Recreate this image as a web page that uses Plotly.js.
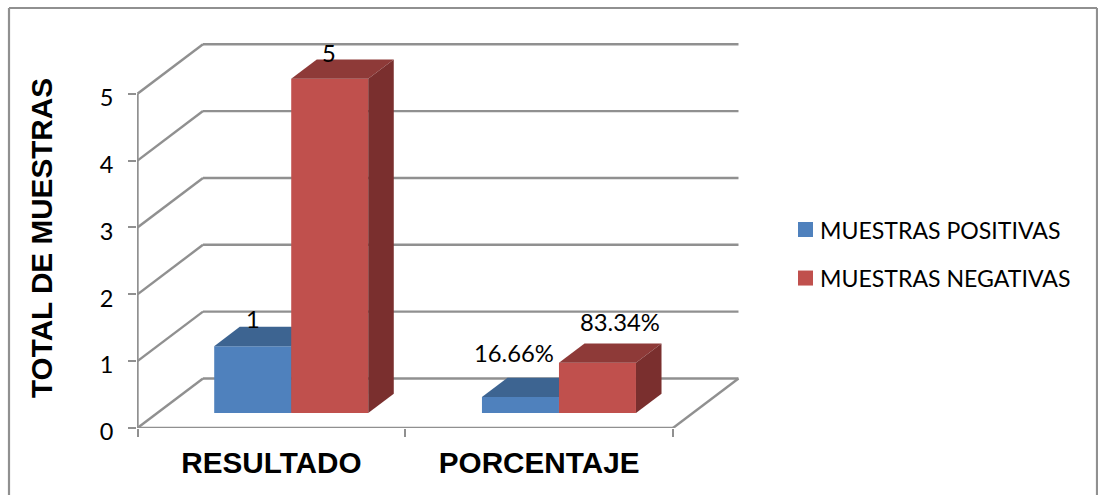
<!DOCTYPE html>
<html>
<head>
<meta charset="utf-8">
<script src="https://cdn.plot.ly/plotly-3.0.1.min.js"></script>
<style>html,body{margin:0;padding:0;background:#fff}#chart{width:1098px;height:495px}</style>
</head>
<body>
<div id="chart"></div>
<script>
// ---- data
var categories = ['RESULTADO', 'PORCENTAJE'];
var positivas = [1, 0.24];
var negativas = [5, 0.75];
var positivasLabels = ['1', '16.66%'];
var negativasLabels = ['5', '83.34%'];
var seriesNames = ['MUESTRAS POSITIVAS', 'MUESTRAS NEGATIVAS'];
var valueTicks = [0, 1, 2, 3, 4, 5];

// ---- oblique projection of the 3D box (in axis units)
var WALL_DX = 0.2446, WALL_DY = 0.74;
var BAR_W = 0.2876;
var D_FRONT = 0.303, D_BACK = 0.693;
function px(x, d) { return x + d * WALL_DX; }
function py(y, d) { return y + d * WALL_DY; }

var AXIS = '#909090';
var FONT_LABEL = 'Lato, Carlito, Calibri, sans-serif';
var FONT_BOLD = '"Liberation Sans", Arial, sans-serif';

function faces(xLeft, v, colorTop, colorSide, xa, ya) {
  var out = [];
  var xr = xLeft + BAR_W;
  out.push({ type: 'scatter', mode: 'lines', xaxis: xa, yaxis: ya, fill: 'toself', fillcolor: colorTop,
    line: { width: 0 }, showlegend: false, hoverinfo: 'skip', cliponaxis: false,
    x: [px(xLeft, D_FRONT), px(xr, D_FRONT), px(xr, D_BACK), px(xLeft, D_BACK), px(xLeft, D_FRONT)],
    y: [py(v, D_FRONT), py(v, D_FRONT), py(v, D_BACK), py(v, D_BACK), py(v, D_FRONT)] });
  out.push({ type: 'scatter', mode: 'lines', xaxis: xa, yaxis: ya, fill: 'toself', fillcolor: colorSide,
    line: { width: 0 }, showlegend: false, hoverinfo: 'skip', cliponaxis: false,
    x: [px(xr, D_FRONT), px(xr, D_BACK), px(xr, D_BACK), px(xr, D_FRONT), px(xr, D_FRONT)],
    y: [py(v, D_FRONT), py(v, D_BACK), py(0, D_BACK), py(0, D_FRONT), py(v, D_FRONT)] });
  return out;
}

var centers = categories.map(function (c, i) { return i + 0.5; });
var frontX = centers.map(function (c) { return px(c, D_FRONT); });
var base = categories.map(function () { return py(0, D_FRONT); });

var traces = [];
// blue series lives on the first subplot, red on the overlay so that it hides the blue boxes
traces.push({ type: 'bar', name: seriesNames[0], legendgroup: 'a', x: frontX, y: positivas, base: base,
  width: BAR_W, offset: -BAR_W, marker: { color: '#4F81BD', line: { width: 0 } }, xaxis: 'x', yaxis: 'y', hoverinfo: 'y' });
positivas.forEach(function (v, i) {
  traces = traces.concat(faces(centers[i] - BAR_W, v, '#3D6491', '#315276', 'x', 'y'));
});
traces.push({ type: 'bar', name: seriesNames[1], legendgroup: 'b', x: frontX, y: negativas, base: base,
  width: BAR_W, offset: 0, marker: { color: '#C0504D', line: { width: 0 } }, xaxis: 'x2', yaxis: 'y2', hoverinfo: 'y' });
negativas.forEach(function (v, i) {
  traces = traces.concat(faces(centers[i], v, '#8E3A38', '#7A2F2E', 'x2', 'y2'));
});

// ---- walls
var shapes = [];
function seg(x0, y0, x1, y1) {
  shapes.push({ type: 'line', xref: 'x', yref: 'y', layer: 'below', x0: x0, y0: y0, x1: x1, y1: y1,
    line: { color: AXIS, width: 2.4 } });
}
var nCat = categories.length, maxTick = valueTicks[valueTicks.length - 1];
valueTicks.forEach(function (t) {
  seg(0, t, px(0, 1), py(t, 1));
  seg(px(0, 1), py(t, 1), px(nCat, 1), py(t, 1));
});
seg(0, 0, 0, maxTick);
seg(0, 0, nCat, 0);
seg(nCat, 0, px(nCat, 1), py(0, 1));

// ---- outer frame of the picture
var L = 137, T = 40, PW = 608, PH = 388;
function fx(p) { return (p - L) / PW; }
function fy(p) { return (T + PH - p) / PH; }
[[9, 8, 9, 497], [9, 8, 1097, 8], [1097, 8, 1097, 497]].forEach(function (s) {
  shapes.push({ type: 'line', xref: 'paper', yref: 'paper', x0: fx(s[0]), y0: fy(s[1]), x1: fx(s[2]), y1: fy(s[3]),
    line: { color: AXIS, width: 2.2 } });
});

// ---- data labels
var annotations = [];
function lab(i, text, v, dx, dy, left) {
  annotations.push({ xref: 'x', yref: 'y', x: frontX[i] + (left ? -BAR_W / 2 : BAR_W / 2), y: base[i] + v, text: text,
    showarrow: false, xanchor: 'center', yanchor: 'middle', xshift: dx, yshift: dy,
    font: { family: FONT_LABEL, size: 23.8, color: '#000' } });
}
lab(0, positivasLabels[0], positivas[0], 0, 27, true);
lab(1, positivasLabels[1], positivas[1], -6, 44, true);
lab(0, negativasLabels[0], negativas[0], -1, 26, false);
lab(1, negativasLabels[1], negativas[1], 23, 41, false);

var xr = [-0.5 / 267.75, (PW - 0.5) / 267.75], yr = [0, PH / 66.86];
var layout = {
  width: 1098, height: 495, autosize: false,
  paper_bgcolor: '#fff', plot_bgcolor: 'rgba(0,0,0,0)',
  margin: { l: L, r: 1098 - L - PW, t: T, b: 495 - T - PH, pad: 0 },
  barmode: 'overlay',
  showlegend: true,
  legend: { x: fx(780), xanchor: 'left', y: fy(208), yanchor: 'top', tracegroupgap: 15.5, bgcolor: 'rgba(0,0,0,0)',
    font: { family: FONT_LABEL, size: 23.1, color: '#000' } },
  xaxis: { range: xr, showgrid: false, zeroline: false, showline: false, ticks: '', tickmode: 'array',
    tickvals: centers, ticktext: categories, ticklabelstandoff: 14,
    tickfont: { family: FONT_BOLD, size: 29.7, weight: 700, color: '#000' },
    minor: { tickmode: 'array', tickvals: [0, 1, 2], ticks: 'outside', ticklen: 8, tickwidth: 2, tickcolor: AXIS, showgrid: false } },
  yaxis: { range: yr, showgrid: false, zeroline: false, showline: false, tickmode: 'array', tickvals: valueTicks,
    ticks: 'outside', ticklen: 8, tickwidth: 2, tickcolor: AXIS, ticklabelstandoff: 10, ticklabelshift: 4,
    tickfont: { family: FONT_LABEL, size: 23.5, color: '#000' },
    title: { text: 'TOTAL DE MUESTRAS', standoff: 38, font: { family: FONT_BOLD, size: 29.7, weight: 700, color: '#000' } } },
  xaxis2: { range: xr, overlaying: 'x', anchor: 'y2', visible: false },
  yaxis2: { range: yr, overlaying: 'y', anchor: 'x2', visible: false },
  shapes: shapes,
  annotations: annotations
};

Plotly.newPlot('chart', traces, layout, { displayModeBar: false, staticPlot: true }).then(function () {
  // square legend keys placed right next to their text
  document.querySelectorAll('#chart .legend .legendpoints').forEach(function (g) {
    g.setAttribute('transform', 'translate(0.5,0) scale(1.25)');
  });
  // the axis title sits a little below the centre of the plot area
  var title = document.querySelector('#chart .g-ytitle');
  if (title) title.setAttribute('transform', 'translate(0,4)');
});
</script>
</body>
</html>
